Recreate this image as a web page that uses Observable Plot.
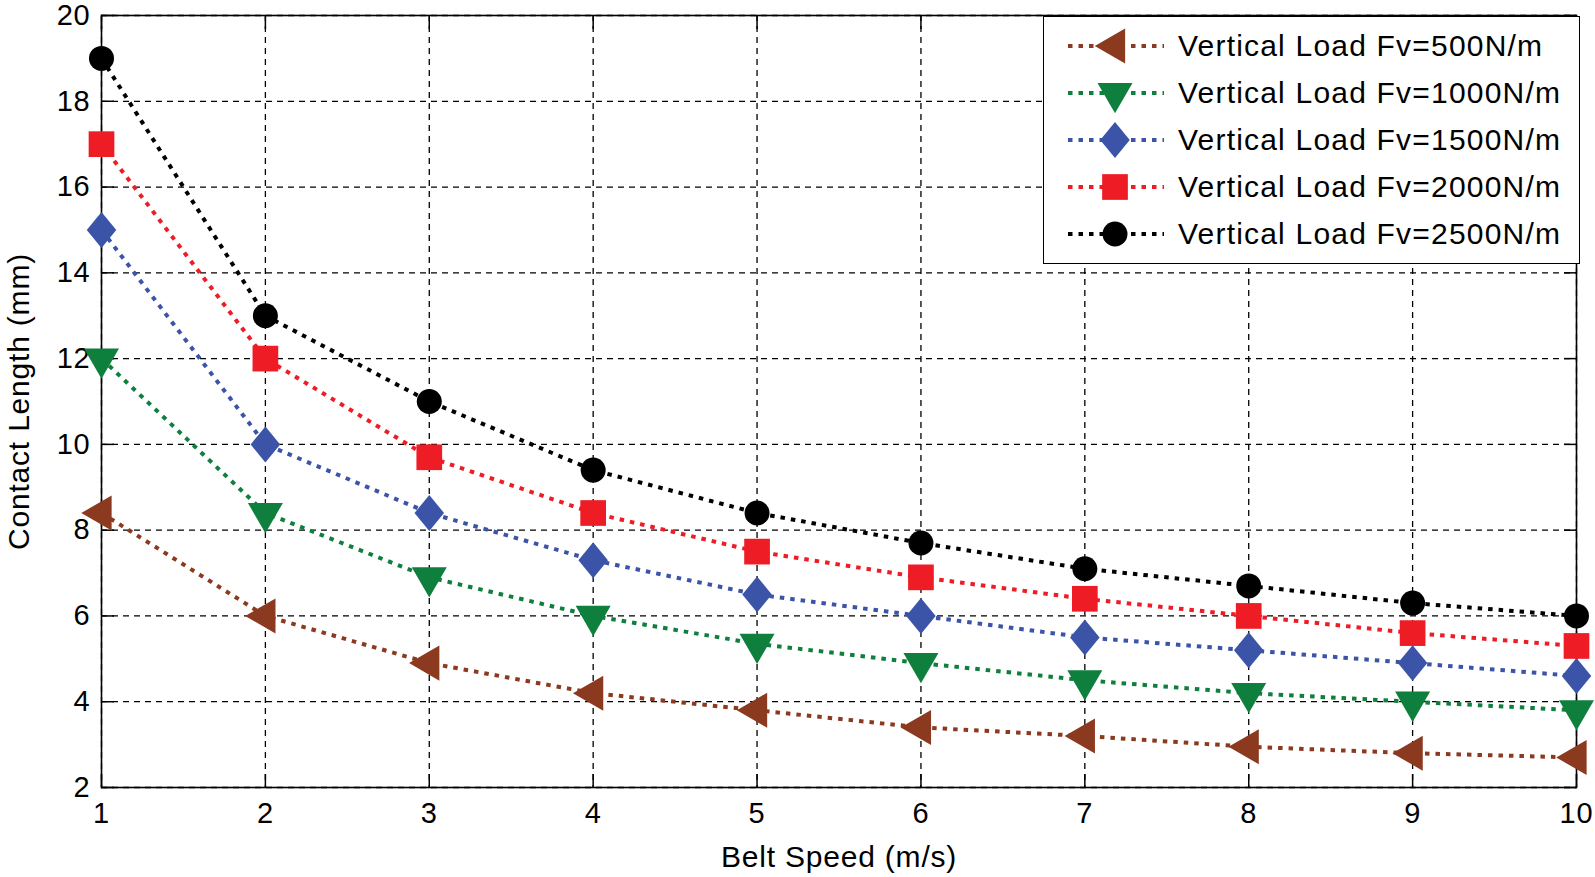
<!DOCTYPE html>
<html>
<head>
<meta charset="utf-8">
<script src="https://cdn.jsdelivr.net/npm/d3@7"></script>
<script src="https://cdn.jsdelivr.net/npm/@observablehq/plot@0.6"></script>
<style>
  html, body { margin: 0; padding: 0; background: #fff; overflow: hidden; }
  #wrap { position: relative; width: 1595px; height: 877px; font-family: "Liberation Sans", Arial, sans-serif; }
  #chart svg { display: block; }
  #legend { position: absolute; left: 1043px; top: 16px; width: 537px; height: 248px; border: 1.5px solid #000; background: #fff; box-sizing: border-box; }
  .row { position: absolute; left: 0; height: 40px; }
  .row svg { position: absolute; left: 0; top: 0; }
  .row span { position: absolute; left: 134px; top: 20px; transform: translateY(-50%); font-size: 30px; letter-spacing: 1.2px; color: #000; white-space: nowrap; line-height: 1; }
</style>
</head>
<body>
<div id="wrap"><div id="chart"></div><div id="legend"></div></div>
<script>
const speed = [1, 2, 3, 4, 5, 6, 7, 8, 9, 10];
const fv500  = [8.4, 6.0, 4.9, 4.2, 3.8, 3.4, 3.2, 2.95, 2.8, 2.7];
const fv1000 = [12, 8.4, 6.9, 6.0, 5.35, 4.9, 4.5, 4.2, 4.0, 3.8];
const fv1500 = [15, 10, 8.4, 7.3, 6.5, 6.0, 5.5, 5.2, 4.9, 4.6];
const fv2000 = [17, 12, 9.7, 8.4, 7.5, 6.9, 6.4, 6.0, 5.6, 5.3];
const fv2500 = [19, 13, 11, 9.4, 8.4, 7.7, 7.1, 6.7, 6.3, 6.0];
const seriesNames = ["Vertical Load Fv=500N/m", "Vertical Load Fv=1000N/m", "Vertical Load Fv=1500N/m", "Vertical Load Fv=2000N/m", "Vertical Load Fv=2500N/m"];
const seriesValues = [fv500, fv1000, fv1500, fv2000, fv2500];
const seriesColors = ["#8c3a1f", "#0e7f3c", "#3b54a8", "#ee1c25", "#000000"];
const seriesSymbolNames = ["triangle", "triangle", "diamond", "square", "circle"];
const seriesRotate = [-90, 180, 0, 0, 0];
const seriesR = [13, 13, 13, 14.5, 12.5];
const xTicks = [1, 2, 3, 4, 5, 6, 7, 8, 9, 10];
const yTicks = [2, 4, 6, 8, 10, 12, 14, 16, 18, 20];
const xLabel = "Belt Speed (m/s)";
const yLabel = "Contact Length (mm)";

// a rhombus a bit narrower than tall (MATLAB-style diamond)
const wideDiamond = {
  draw(context, size) {
    const h = Math.sqrt(size / (2 * 0.82));
    const w = h * 0.82;
    context.moveTo(0, -h);
    context.lineTo(w, 0);
    context.lineTo(0, h);
    context.lineTo(-w, 0);
    context.closePath();
  }
};
const symMap = {triangle: d3.symbolTriangle, diamond: wideDiamond, square: d3.symbolSquare, circle: d3.symbolCircle};

const font = "Liberation Sans, Arial, sans-serif";
const gridStyle = {stroke: "#000", strokeOpacity: 1, strokeWidth: 1.3, strokeDasharray: "6,5"};
const marks = [
  Plot.gridX(xTicks, gridStyle),
  Plot.gridY(yTicks, gridStyle),
  Plot.axisX(xTicks, {anchor: "bottom", tickSize: 0, tickPadding: 15, fontSize: 29, tickFormat: d => String(d), label: null}),
  Plot.axisX(xTicks, {anchor: "bottom", tickSize: -13, text: null, label: null, strokeWidth: 1.5}),
  Plot.axisX(xTicks, {anchor: "top", tickSize: -13, text: null, label: null, strokeWidth: 1.5}),
  Plot.axisY(yTicks, {anchor: "left", tickSize: 0, tickPadding: 11, fontSize: 29, tickFormat: d => String(d), label: null}),
  Plot.axisY(yTicks, {anchor: "left", tickSize: -13, text: null, label: null, strokeWidth: 1.5}),
  Plot.axisY(yTicks, {anchor: "right", tickSize: -13, text: null, label: null, strokeWidth: 1.5}),
  Plot.frame({stroke: "#000", strokeWidth: 1.6}),
  Plot.text([xLabel], {frameAnchor: "bottom", dy: 70, lineAnchor: "middle", textAnchor: "middle", text: d => d, fontSize: 30, fill: "#000"}),
  Plot.text([yLabel], {frameAnchor: "left", dx: -82, lineAnchor: "middle", textAnchor: "middle", rotate: -90, text: d => d, fontSize: 30, fill: "#000"})
];
seriesValues.forEach((vals, i) => {
  const data = speed.map((s, j) => ({s, v: vals[j]}));
  marks.push(Plot.line(data, {x: "s", y: "v", stroke: seriesColors[i], strokeWidth: 4, strokeDasharray: "4.5,6", strokeLinecap: "butt"}));
});
seriesValues.forEach((vals, i) => {
  const data = speed.map((s, j) => ({s, v: vals[j]}));
  const sym = symMap[seriesSymbolNames[i]];
  marks.push(Plot.dot(data, {x: "s", y: "v", symbol: () => sym, r: seriesR[i], fill: seriesColors[i], stroke: "none", rotate: seriesRotate[i]}));
});

const chart = Plot.plot({
  width: 1595,
  height: 877,
  marginLeft: 101,
  marginRight: 19,
  marginTop: 15,
  marginBottom: 90,
  style: {fontFamily: font, fontSize: "29px", color: "#000", background: "#fff"},
  x: {domain: [1, 10]},
  y: {domain: [2, 20]},
  symbol: {type: "identity"},
  marks
});
chart.querySelectorAll("text").forEach(t => t.setAttribute("letter-spacing", "0.8"));
document.getElementById("chart").appendChild(chart);

// legend
const legend = d3.select("#legend");
seriesNames.forEach((name, i) => {
  const row = legend.append("div").attr("class", "row").style("top", (9 + i * 47) + "px");
  const svg = row.append("svg").attr("width", 130).attr("height", 40);
  svg.append("line").attr("x1", 24).attr("x2", 120).attr("y1", 20).attr("y2", 20)
    .attr("stroke", seriesColors[i]).attr("stroke-width", 4).attr("stroke-dasharray", "4.5,6");
  svg.append("path")
    .attr("d", d3.symbol(symMap[seriesSymbolNames[i]], Math.PI * seriesR[i] * seriesR[i])())
    .attr("transform", `translate(71,20) rotate(${seriesRotate[i]})`)
    .attr("fill", seriesColors[i]);
  row.append("span").text(name);
});
</script>
</body>
</html>
